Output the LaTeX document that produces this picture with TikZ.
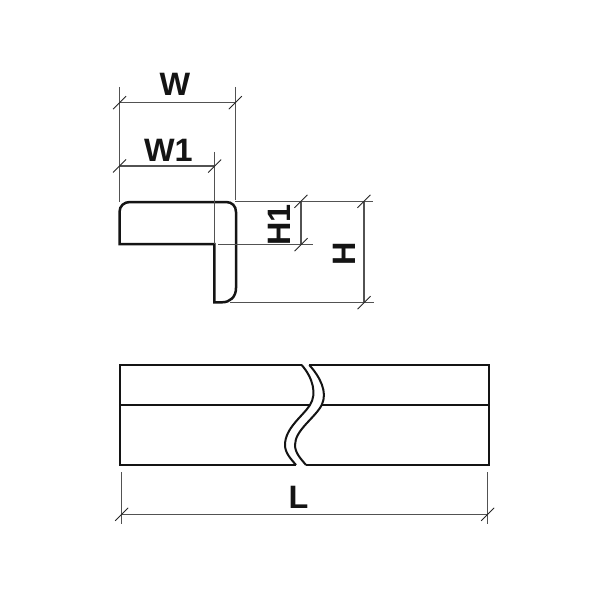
\documentclass[tikz,border=0pt]{standalone}
\usepackage{fontspec}
\setmainfont{Liberation Sans}
\usetikzlibrary{calc}
\tikzset{
  x=1bp,y=-1bp,
  profile/.style={draw=black!92,line width=2.5bp,line join=miter},
  dimline/.style={draw=black!68,line width=1.1bp},
  tickline/.style={draw=black!85,line width=0.8bp},
  dimlabel/.style={inner sep=0pt,font=\fontsize{32.5}{32.5}\selectfont\bfseries,text=black!92},
}
\newcommand{\dimtick}[1]{\draw[tickline] ($(#1)+(-6.5,6.5)$) -- ($(#1)+(6.5,-6.5)$);}
\begin{document}
\begin{tikzpicture}
\useasboundingbox (0,0) rectangle (600,600);
\fill[white] (0,0) rectangle (600,600);

% end section
\draw[profile] (119.5,244) -- (119.5,212)
  .. controls (119.5,206) and (124,202) .. (130,202) -- (226,202)
  .. controls (232,202) and (236,206) .. (236,212) -- (236,288)
  .. controls (236,297) and (230,302.3) .. (222,302.3) -- (214.3,302.3) -- (214.3,244) -- cycle;

% W
\coordinate (wa) at (119.5,102.7); \coordinate (wb) at (235.3,102.7);
\coordinate (waT) at (119.5,87); \coordinate (waB) at (119.5,202);
\coordinate (wbT) at (235.3,87); \coordinate (wbB) at (235.3,200);
\draw[dimline] (waT) -- (waB);
\draw[dimline] (wbT) -- (wbB);
\draw[dimline] (wa) -- (wb);
\dimtick{wa}\dimtick{wb}
\node[dimlabel] (lw) at (175,84.5) {W};

% W1
\coordinate (va) at (119.5,166); \coordinate (vb) at (214.7,166);
\coordinate (vbT) at (214.7,152); \coordinate (vbB) at (214.7,244);
\draw[dimline] (vbT) -- (vbB);
\draw[dimline] (va) -- (vb);
\dimtick{va}\dimtick{vb}
\node[dimlabel] (lwa) at (168.3,150.3) {W1};

% H, H1
\coordinate (hTa) at (235,201.3); \coordinate (hTb) at (373,201.3);
\coordinate (hMa) at (218,244.7); \coordinate (hMb) at (313,244.7);
\coordinate (hBa) at (230,302.7); \coordinate (hBb) at (373.5,302.7);
\coordinate (h1t) at (301,201.3); \coordinate (h1b) at (301,244.7);
\coordinate (h2t) at (364,201.3); \coordinate (h2b) at (364,302.7);
\draw[dimline] (hTa) -- (hTb);
\draw[dimline] (hMa) -- (hMb);
\draw[dimline] (hBa) -- (hBb);
\draw[dimline] (h1t) -- (h1b);
\draw[dimline] (h2t) -- (h2b);
\dimtick{h1t}\dimtick{h1b}\dimtick{h2t}\dimtick{h2b}
\node[dimlabel,rotate=90] (lh1) at (279,225) {H1};
\node[dimlabel,rotate=90] (lh) at (344.7,254) {H};

% side view
\draw[profile] (301.7,365) -- (120,365) -- (120,465) -- (296,465);
\draw[profile] (309.3,365) -- (489,365) -- (489,465) -- (306,465);
\draw[profile] (120,405) -- (310,405);
\draw[profile] (321.7,405) -- (489,405);
\draw[profile,line width=2bp] (301.7,365) .. controls (313,378) and (317,394) .. (310,405)
  .. controls (303,416) and (285,428) .. (285,445) .. controls (285,453) and (291,459) .. (296,465);
\draw[profile,line width=2bp] (309.3,365) .. controls (320,377) and (328,392) .. (321.7,405)
  .. controls (315,418) and (295,430) .. (295,445) .. controls (295,453) and (301,459) .. (306,465);

% L
\coordinate (la) at (121.7,514.3); \coordinate (lb) at (487.7,514.3);
\coordinate (laT) at (121.7,472); \coordinate (laB) at (121.7,524);
\coordinate (lbT) at (487.7,472); \coordinate (lbB) at (487.7,524);
\draw[dimline] (laT) -- (laB);
\draw[dimline] (lbT) -- (lbB);
\draw[dimline] (la) -- (lb);
\dimtick{la}\dimtick{lb}
\node[dimlabel] (ll) at (298.5,497) {L};
\end{tikzpicture}
\end{document}
